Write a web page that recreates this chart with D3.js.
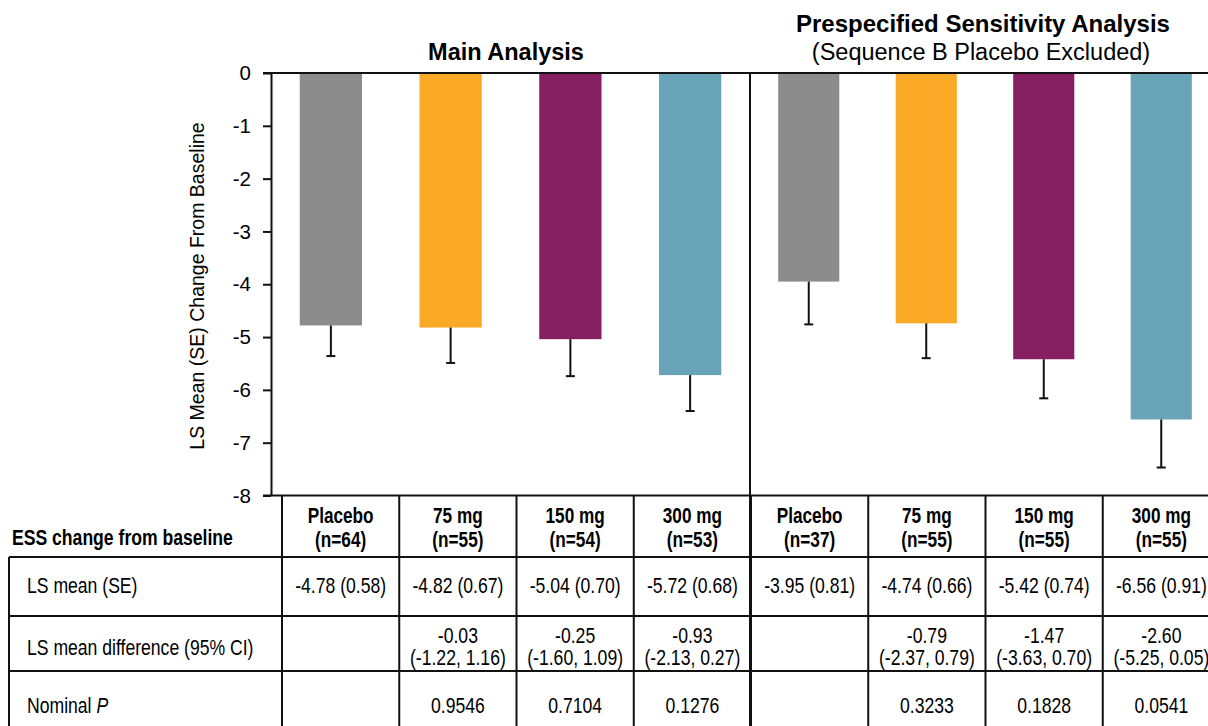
<!DOCTYPE html>
<html>
<head>
<meta charset="utf-8">
<script src="https://cdn.jsdelivr.net/npm/d3@7"></script>
<style>
  body { margin: 0; background: #fff; }
  svg { display: block; }
  text { font-family: "Liberation Sans", Arial, sans-serif; fill: #000; }
</style>
</head>
<body>
<svg></svg>
<script>
const groups = ['Placebo', '75 mg', '150 mg', '300 mg'];
const colors = ['#8c8c8c', '#f9a926', '#861f61', '#69a3b8'];

const mainN = [64, 55, 54, 53];
const mainMean = [-4.78, -4.82, -5.04, -5.72];
const mainSE = [0.58, 0.67, 0.70, 0.68];
const mainDiff = [null, -0.03, -0.25, -0.93];
const mainLow = [null, -1.22, -1.60, -2.13];
const mainHigh = [null, 1.16, 1.09, 0.27];
const mainP = [null, 0.9546, 0.7104, 0.1276];

const sensN = [37, 55, 55, 55];
const sensMean = [-3.95, -4.74, -5.42, -6.56];
const sensSE = [0.81, 0.66, 0.74, 0.91];
const sensDiff = [null, -0.79, -1.47, -2.60];
const sensLow = [null, -2.37, -3.63, -5.25];
const sensHigh = [null, 0.79, 0.70, 0.05];
const sensP = [null, 0.3233, 0.1828, 0.0541];

const yTicks = [0, -1, -2, -3, -4, -5, -6, -7, -8];
const rowLabels = ['LS mean (SE)', 'LS mean difference (95% CI)', 'Nominal'];

const svgWidth = 1208;
const svgHeight = 726;

const svg = d3.select('svg')
    .attr('width', svgWidth)
    .attr('height', svgHeight);

const axisX = 271;
const midX = 750;
const rightX = 1220;

const y = d3.scaleLinear()
    .domain([0, -8])
    .range([73, 495.5]);

const panels = [
    { title: 'Main Analysis', n: mainN, mean: mainMean, se: mainSE, diff: mainDiff, low: mainLow, high: mainHigh, p: mainP,
      x: d3.scaleBand().domain(groups).range([axisX, midX]).paddingInner(0.48).paddingOuter(0.24) },
    { title: 'Prespecified Sensitivity Analysis', n: sensN, mean: sensMean, se: sensSE, diff: sensDiff, low: sensLow, high: sensHigh, p: sensP,
      x: d3.scaleBand().domain(groups).range([midX, rightX]).paddingInner(0.48).paddingOuter(0.24) }
];

// titles
svg.append('text')
    .attr('x', 506).attr('y', 60)
    .attr('text-anchor', 'middle')
    .attr('font-size', '23.5px').attr('font-weight', 'bold')
    .text(panels[0].title);

svg.append('text')
    .attr('x', 983).attr('y', 32)
    .attr('text-anchor', 'middle')
    .attr('font-size', '24px').attr('font-weight', 'bold')
    .text(panels[1].title);

svg.append('text')
    .attr('x', 981).attr('y', 60)
    .attr('text-anchor', 'middle')
    .attr('font-size', '23.5px')
    .text('(Sequence B Placebo Excluded)');

// bars + error bars
panels.forEach(panel => {
    const g = svg.append('g');
    g.selectAll('rect')
        .data(groups)
        .enter().append('rect')
        .attr('x', d => panel.x(d))
        .attr('y', y(0))
        .attr('width', panel.x.bandwidth())
        .attr('height', (d, i) => y(panel.mean[i]) - y(0))
        .attr('fill', (d, i) => colors[i]);

    const err = g.selectAll('.err')
        .data(groups)
        .enter().append('g')
        .attr('class', 'err')
        .attr('stroke', '#111')
        .attr('stroke-width', 2);
    err.append('line')
        .attr('x1', d => panel.x(d) + panel.x.bandwidth() / 2)
        .attr('x2', d => panel.x(d) + panel.x.bandwidth() / 2)
        .attr('y1', (d, i) => y(panel.mean[i]))
        .attr('y2', (d, i) => y(panel.mean[i] - panel.se[i]));
    err.append('line')
        .attr('x1', d => panel.x(d) + panel.x.bandwidth() / 2 - 4.5)
        .attr('x2', d => panel.x(d) + panel.x.bandwidth() / 2 + 4.5)
        .attr('y1', (d, i) => y(panel.mean[i] - panel.se[i]))
        .attr('y2', (d, i) => y(panel.mean[i] - panel.se[i]));
});

// y axis
const yAxis = svg.append('g')
    .attr('transform', `translate(${axisX}, 0)`)
    .call(d3.axisLeft(y).tickValues(yTicks).tickSize(8).tickSizeOuter(0).tickPadding(12).tickFormat(d => String(d)));
yAxis.select('.domain').attr('stroke', '#111').attr('stroke-width', 2);
yAxis.selectAll('.tick line').attr('stroke', '#111').attr('stroke-width', 2);
yAxis.selectAll('.tick text')
    .attr('font-size', '20.5px')
    .attr('font-family', '"Liberation Sans", Arial, sans-serif')
    .attr('fill', '#000');

svg.append('text')
    .attr('transform', `translate(204, 286) rotate(-90)`)
    .attr('text-anchor', 'middle')
    .attr('font-size', '19.5px')
    .text('LS Mean (SE) Change From Baseline');

// frame lines
const frame = svg.append('g').attr('stroke', '#111').attr('stroke-width', 2);
frame.append('line').attr('x1', axisX - 8).attr('x2', svgWidth).attr('y1', y(0)).attr('y2', y(0));
frame.append('line').attr('x1', axisX - 8).attr('x2', svgWidth).attr('y1', y(-8)).attr('y2', y(-8));
frame.append('line').attr('x1', midX).attr('x2', midX).attr('y1', y(0)).attr('y2', svgHeight);

// table
const columns = [];
panels.forEach(panel => groups.forEach((grp, i) => columns.push({ panel, grp, i })));

const col = d3.scaleBand()
    .domain(d3.range(columns.length))
    .range([282, rightX]);

const rowTop = [y(-8), 557, 616, 671, 745];
const tableLeft = 9;

const table = svg.append('g');
const tl = table.append('g').attr('stroke', '#111').attr('stroke-width', 2);

rowTop.slice(1, 4).forEach(ry => {
    tl.append('line').attr('x1', tableLeft).attr('x2', svgWidth).attr('y1', ry).attr('y2', ry);
});
tl.append('line').attr('x1', tableLeft).attr('x2', tableLeft).attr('y1', rowTop[1]).attr('y2', svgHeight);
d3.range(columns.length + 1).forEach(k => {
    const cx = k < columns.length ? col(k) : rightX;
    tl.append('line').attr('x1', cx).attr('x2', cx).attr('y1', rowTop[0]).attr('y2', svgHeight);
});

// condensed table text (squeezed horizontally like a narrow face)
function cell(x, yy, txt, opts = {}) {
    return table.append('text')
        .attr('transform', `translate(${x}, ${yy}) scale(0.8, 1)`)
        .attr('text-anchor', opts.anchor || 'middle')
        .attr('font-size', opts.size || '22px')
        .attr('font-weight', opts.bold ? 'bold' : null)
        .text(txt);
}

cell(12, 545, 'ESS change from baseline', { anchor: 'start', bold: true });

rowLabels.forEach((lab, r) => {
    const t = cell(27, [593, 655, 713][r], lab, { anchor: 'start' });
    if (r === 2) {
        t.append('tspan').text(' ');
        t.append('tspan').attr('font-style', 'italic').text('P');
    }
});

const fmt2 = v => v.toFixed(2);

columns.forEach((c, k) => {
    const cx = col(k) + col.bandwidth() / 2;
    cell(cx, 523, c.grp, { bold: true, size: '21.5px' });
    cell(cx, 547, `(n=${c.panel.n[c.i]})`, { bold: true, size: '21.5px' });
    cell(cx, 593, `${fmt2(c.panel.mean[c.i])} (${fmt2(c.panel.se[c.i])})`);
    if (c.panel.diff[c.i] !== null) {
        cell(cx, 643, fmt2(c.panel.diff[c.i]));
        cell(cx, 665, `(${fmt2(c.panel.low[c.i])}, ${fmt2(c.panel.high[c.i])})`);
        cell(cx, 713, c.panel.p[c.i].toFixed(4));
    }
});
</script>
</body>
</html>
